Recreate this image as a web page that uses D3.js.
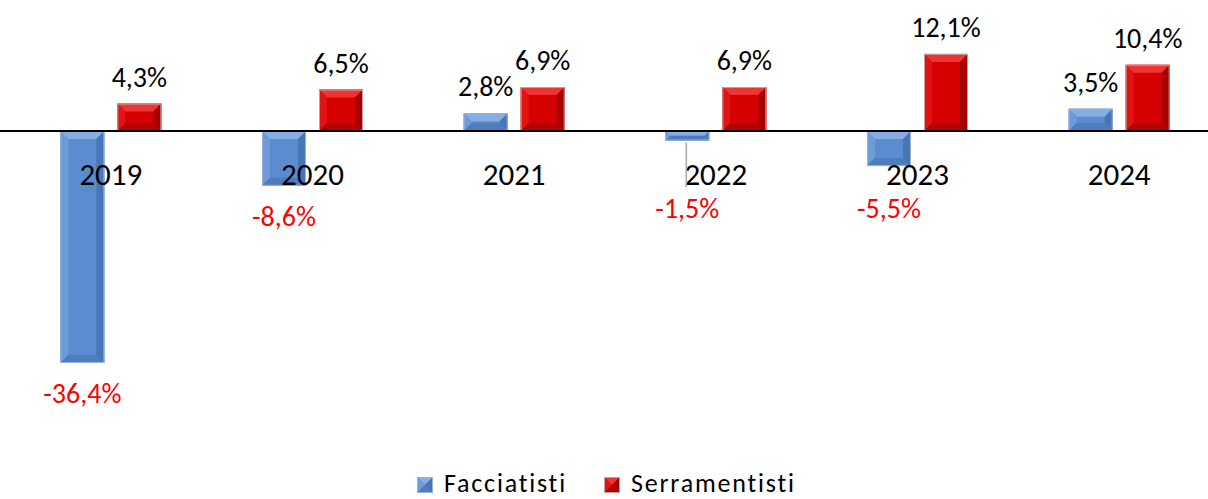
<!DOCTYPE html>
<html>
<head>
<meta charset="utf-8">
<script src="https://cdn.jsdelivr.net/npm/d3@7"></script>
<style>
  body { margin: 0; background: #fff; }
  svg { display: block; font-family: Carlito, Calibri, Lato, sans-serif; }
</style>
</head>
<body>
<svg id="chart" width="1208" height="499"></svg>
<script>
// data
var years = ["2019", "2020", "2021", "2022", "2023", "2024"];
var series = ["Facciatisti", "Serramentisti"];
var facciatisti = [-36.4, -8.6, 2.8, -1.5, -5.5, 3.5];
var serramentisti = [4.3, 6.5, 6.9, 6.9, 12.1, 10.4];

var width = 1208, height = 499;
var svg = d3.select("#chart");

// colours: face + bevel sides
var palette = {
    "Facciatisti":   { face: "#5b8ccf", top: "#86aee3", left: "#6e9ad8", right: "#4776b6", bottom: "#4e7dbd", stroke: "#9ab3d3" },
    "Serramentisti": { face: "#d60000", top: "#ee3434", left: "#e01414", right: "#a80000", bottom: "#b40000", stroke: "#cf9a9a" }
};

var x = d3.scaleBand().domain(years).range([10, 1220]);
var xs = d3.scaleBand().domain(series)
    .range([x.bandwidth() / 2 - 50.5, x.bandwidth() / 2 + 50.5])
    .paddingInner(0.228);
var y = d3.scaleLinear().domain([-36.4, 12.1]).range([363, 131 - 12.1 * 232 / 36.4]);

var rows = [];
years.forEach(function(yr, i) {
    rows.push({ year: yr, s: series[0], v: facciatisti[i] });
    rows.push({ year: yr, s: series[1], v: serramentisti[i] });
});

function fmt(v) { return d3.format(".1f")(v).replace(".", ",").replace("−", "-") + "%"; }

function bevelBar(g, bx, by, bw, bh, c) {
    var b = Math.min(8, bh / 2, bw / 2);
    g.append("rect").attr("x", bx).attr("y", by).attr("width", bw).attr("height", bh).attr("fill", c.face);
    var pts = {
        top: [[bx, by], [bx + bw, by], [bx + bw - b, by + b], [bx + b, by + b]],
        left: [[bx, by], [bx + b, by + b], [bx + b, by + bh - b], [bx, by + bh]],
        right: [[bx + bw, by], [bx + bw, by + bh], [bx + bw - b, by + bh - b], [bx + bw - b, by + b]],
        bottom: [[bx, by + bh], [bx + b, by + bh - b], [bx + bw - b, by + bh - b], [bx + bw, by + bh]]
    };
    Object.keys(pts).forEach(function(k) {
        g.append("polygon").attr("points", pts[k].map(function(p) { return p.join(","); }).join(" ")).attr("fill", c[k]);
    });
    g.append("rect").attr("x", bx + 0.5).attr("y", by + 0.5).attr("width", Math.max(0, bw - 1)).attr("height", Math.max(0, bh - 1))
        .attr("fill", "none").attr("stroke", c.stroke).attr("stroke-width", 1);
}

// bars
var gBars = svg.append("g");
rows.forEach(function(d) {
    var bx = x(d.year) + xs(d.s);
    var y0 = y(Math.max(0, d.v)), y1 = y(Math.min(0, d.v));
    bevelBar(gBars.append("g"), bx, y0, xs.bandwidth(), y1 - y0, palette[d.s]);
});

// zero line
svg.append("line").attr("x1", 0).attr("x2", width).attr("y1", y(0)).attr("y2", y(0))
    .attr("stroke", "#000").attr("stroke-width", 2);

// category labels
svg.append("g").selectAll("text").data(years).enter().append("text")
    .attr("x", function(d) { return x(d) + x.bandwidth() / 2; })
    .attr("y", 185)
    .attr("text-anchor", "middle")
    .attr("font-size", 31)
    .attr("fill", "#000")
    .text(function(d) { return d; });

// data labels
var gLab = svg.append("g");
rows.forEach(function(d) {
    var cx = x(d.year) + xs(d.s) + xs.bandwidth() / 2;
    var ly;
    if (d.v >= 0) {
        ly = y(d.v) - 17;
    } else {
        ly = Math.max(y(d.v) + 40, 218);
        if (ly - y(d.v) > 60) {
            gLab.append("line").attr("x1", cx - 1).attr("x2", cx - 1)
                .attr("y1", y(d.v) + 2).attr("y2", ly - 31)
                .attr("stroke", "#a6a6a6").attr("stroke-width", 1.5);
        }
    }
    gLab.append("text")
        .attr("x", cx).attr("y", ly)
        .attr("text-anchor", "middle")
        .attr("font-size", 28)
        .attr("fill", d.v < 0 ? "#ff0000" : "#000")
        .text(fmt(d.v));
});

// legend
var legend = svg.append("g").attr("transform", "translate(417,477)");
series.forEach(function(s, i) {
    var g = legend.append("g").attr("transform", "translate(" + (i * 187) + ",0)");
    bevelBar(g, 0, 0, 16, 16, palette[s]);
    g.append("text").attr("x", 27).attr("y", 15).attr("font-size", 26)
        .attr("letter-spacing", 1.8).attr("fill", "#000").text(s);
});
</script>
</body>
</html>
